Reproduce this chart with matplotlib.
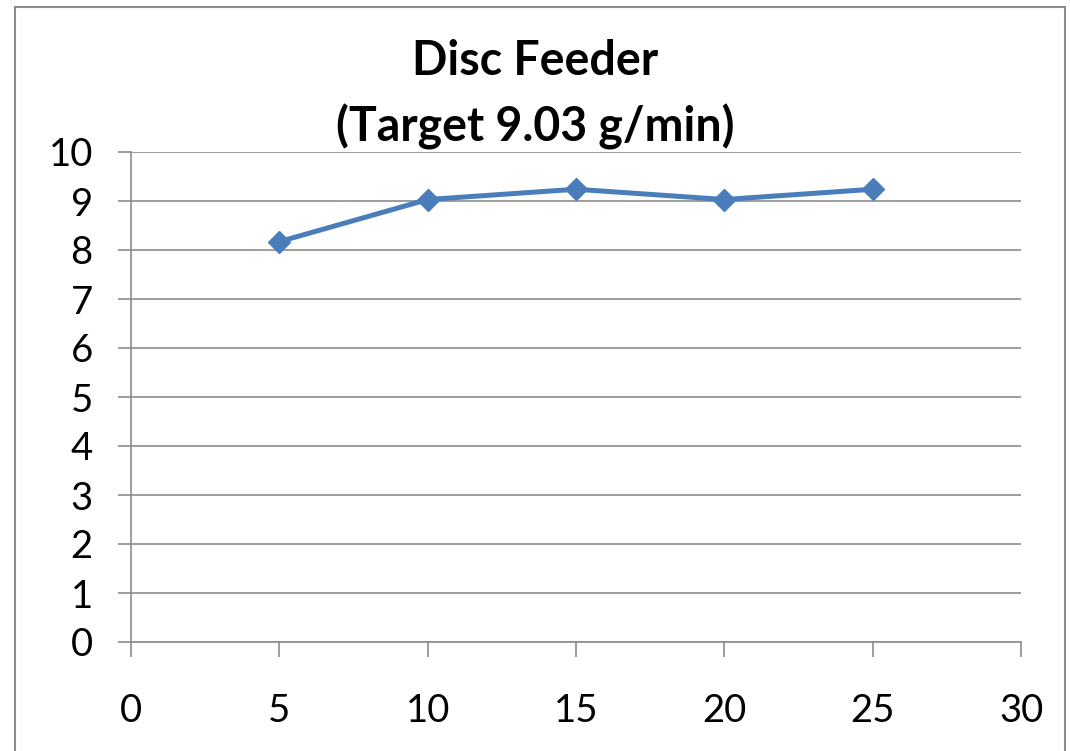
import matplotlib
matplotlib.use("Agg")
import matplotlib.pyplot as plt
from matplotlib.patches import Rectangle

# ── Data ──────────────────────────────────────────────────────────────────────
minutes = [5, 10, 15, 20, 25]
feed_rate = [8.17, 9.03, 9.24, 9.03, 9.24]   # g/min
x_ticks = [0, 5, 10, 15, 20, 25, 30]
y_ticks = list(range(0, 11))

plt.rcParams['font.family'] = ['Lato', 'DejaVu Sans']

grid_col = '#8c8c8c'
line_col = '#4a7ebb'

fig = plt.figure(figsize=(10.70, 7.51), dpi=100)
ax = fig.add_axes([131/1070, 1 - 642/751, (1021 - 131)/1070, (642 - 152)/751])

ax.plot(minutes, feed_rate, color=line_col, linewidth=3.6, marker='D',
        markersize=11, markerfacecolor=line_col, markeredgecolor=line_col,
        zorder=3, clip_on=False)

ax.set_xlim(0, 30)
ax.set_ylim(0, 10)
ax.set_xticks(x_ticks)
ax.set_yticks(y_ticks)
ax.tick_params(axis='y', labelsize=27.5, length=9.5, width=1.2, color=grid_col,
               pad=18, direction='out')
ax.tick_params(axis='x', labelsize=27.5, length=11, width=1.2, color=grid_col,
               pad=26, direction='out')
ax.yaxis.grid(True, color=grid_col, linewidth=1.2)
ax.set_axisbelow(True)

for side in ('top', 'right'):
    ax.spines[side].set_visible(False)
for side in ('left', 'bottom'):
    ax.spines[side].set_color(grid_col)
    ax.spines[side].set_linewidth(1.2)

# two-line title, centred on the figure
fig.text(0.5, 1 - 75/751, 'Disc Feeder', ha='center', va='baseline',
         fontsize=33.5, fontweight='bold')
fig.text(0.5, 1 - 142/751, '(Target 9.03 g/min)', ha='center', va='baseline',
         fontsize=33.5, fontweight='bold')

# outer chart frame (bottom edge runs off the image)
fig.patches.append(Rectangle((15/1070, -0.05), (1065 - 15)/1070, 1.05 - 7/751,
                             transform=fig.transFigure, fill=False,
                             edgecolor='#8c8c8c', linewidth=1.5))

fig.savefig('out.png', dpi=100)
